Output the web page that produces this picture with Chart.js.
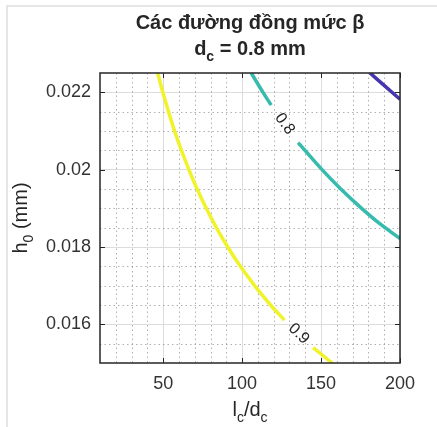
<!DOCTYPE html>
<html lang="vi">
<head>
<meta charset="utf-8">
<title>Các đường đồng mức β</title>
<script src="https://cdn.jsdelivr.net/npm/chart.js@4.4.1/dist/chart.umd.min.js"></script>
<style>
  html, body { margin: 0; padding: 0; background: #fff; }
  #chartBox { width: 437px; height: 427px; }
</style>
</head>
<body>
<div id="chartBox"><canvas id="betaContour" width="437" height="427"></canvas></div>
<script>
// beta contour levels for d_c = 0.8 mm, x = l_c/d_c, y = h_0 (mm)
// null marks where the line is broken for its level label
const levels = ['0.7', '0.8', '0.9'];
const levelColors = ['#4536b0', '#36bbad', '#f1f32a'];
const levelLabelled = [false, true, true];

const lcdc07 = [181.0, 190.5, 200];
const h07 = [0.0225, 0.02216, 0.02182];

const lcdc08 = [105.8, 113.2, 118.4, null, 135.5, 150.6, 162.5, 175.7, 187.0, 200];
const h08 = [0.0225, 0.022, 0.02167, null, 0.0207, 0.02, 0.0195, 0.019, 0.01861, 0.01822];

const lcdc09 = [46.5, 49.8, 57.2, 66.3, 71.5, 77.3, 83.7, 90.9, 98.9, 107.9, 118.0, 126.8, null, 145.0, 157.0];
const h09 = [0.0225, 0.022, 0.021, 0.02, 0.0195, 0.019, 0.0185, 0.018, 0.0175, 0.017, 0.0165, 0.01611, null, 0.0154, 0.015];

const xTicks = [50, 100, 150, 200];
const yTicks = [0.016, 0.018, 0.02, 0.022];
const yTickLabels = ['0.016', '0.018', '0.02', '0.022'];
const xMinor = [20, 30, 40, 60, 70, 80, 90, 110, 120, 130, 140, 160, 170, 180, 190];
const yMinor = [0.0155, 0.0165, 0.017, 0.0175, 0.0185, 0.019, 0.0195, 0.0205, 0.021, 0.0215];

const FONT = '"Liberation Sans", Arial, Helvetica, sans-serif';
const INK = '#262626';

function toPoints(xs, ys) {
    return xs.map((x, i) => ({ x: x, y: ys[i] }));
}

// text with subscripts, e.g. [['d'], ['c', true], [' = 0.8 mm']]
function drawRich(ctx, parts, x, y, size, weight) {
    const subSize = Math.round(size * 0.72);
    const fontOf = sub => `${weight} ${sub ? subSize : size}px ${FONT}`;
    let total = 0;
    parts.forEach(([t, sub]) => {
        ctx.font = fontOf(sub);
        total += ctx.measureText(t).width;
    });
    let cx = x - total / 2;
    ctx.textAlign = 'left';
    ctx.textBaseline = 'alphabetic';
    parts.forEach(([t, sub]) => {
        ctx.font = fontOf(sub);
        ctx.fillText(t, cx, y + (sub ? size * 0.3 : 0));
        cx += ctx.measureText(t).width;
    });
}

const figureDecor = {
    id: 'figureDecor',
    beforeDraw(chart) {
        const ctx = chart.ctx;
        ctx.save();
        ctx.fillStyle = '#fff';
        ctx.fillRect(0, 0, chart.width, chart.height);
        ctx.strokeStyle = '#dedede';
        ctx.lineWidth = 1.5;
        ctx.beginPath();
        ctx.moveTo(7, chart.height);
        ctx.lineTo(7, 6);
        ctx.lineTo(chart.width, 6);
        ctx.stroke();
        ctx.restore();
    },
    beforeDatasetsDraw(chart) {
        const { ctx, chartArea: a, scales } = chart;
        ctx.save();
        ctx.strokeStyle = 'rgba(100,100,100,0.5)';
        ctx.lineWidth = 1;
        ctx.setLineDash([1.5, 3]);
        ctx.beginPath();
        xMinor.forEach(v => {
            const px = Math.round(scales.x.getPixelForValue(v)) + 0.5;
            ctx.moveTo(px, a.top);
            ctx.lineTo(px, a.bottom);
        });
        yMinor.forEach(v => {
            const py = Math.round(scales.y.getPixelForValue(v)) + 0.5;
            ctx.moveTo(a.left, py);
            ctx.lineTo(a.right, py);
        });
        ctx.stroke();
        ctx.restore();
    },
    afterDatasetsDraw(chart) {
        const { ctx, chartArea: a, scales } = chart;
        ctx.save();
        // axes box with inward ticks
        ctx.strokeStyle = INK;
        ctx.lineWidth = 1.5;
        ctx.strokeRect(a.left, a.top, a.right - a.left, a.bottom - a.top);
        ctx.lineWidth = 1;
        ctx.beginPath();
        xTicks.forEach(v => {
            const px = Math.round(scales.x.getPixelForValue(v)) + 0.5;
            ctx.moveTo(px, a.bottom);
            ctx.lineTo(px, a.bottom - 5);
            ctx.moveTo(px, a.top);
            ctx.lineTo(px, a.top + 5);
        });
        yTicks.forEach(v => {
            const py = Math.round(scales.y.getPixelForValue(v)) + 0.5;
            ctx.moveTo(a.left, py);
            ctx.lineTo(a.left + 5, py);
            ctx.moveTo(a.right, py);
            ctx.lineTo(a.right - 5, py);
        });
        ctx.stroke();

        // level labels sit in the break of each labelled line
        ctx.fillStyle = INK;
        ctx.font = `16px ${FONT}`;
        ctx.textAlign = 'center';
        ctx.textBaseline = 'middle';
        chart.data.datasets.forEach((ds, i) => {
            if (!levelLabelled[i]) return;
            const k = ds.data.findIndex(p => p.x === null);
            const pts = chart.getDatasetMeta(i).data;
            const p1 = pts[k - 1], p2 = pts[k + 1];
            ctx.save();
            ctx.translate((p1.x + p2.x) / 2, (p1.y + p2.y) / 2);
            ctx.rotate(Math.atan2(p2.y - p1.y, p2.x - p1.x));
            ctx.fillText(levels[i], 0, 0);
            ctx.restore();
        });
        ctx.restore();
    },
    afterDraw(chart) {
        const { ctx, chartArea: a } = chart;
        const mid = (a.left + a.right) / 2;
        ctx.save();
        ctx.fillStyle = INK;
        ctx.font = `bold 20px ${FONT}`;
        ctx.textAlign = 'center';
        ctx.textBaseline = 'alphabetic';
        ctx.fillText('Các đường đồng mức β', mid, 29);
        drawRich(ctx, [['d'], ['c', true], [' = 0.8 mm']], mid, 55, 20, 'bold');

        drawRich(ctx, [['l'], ['c', true], ['/d'], ['c', true]], mid, 416, 20, 'normal');

        ctx.translate(27, (a.top + a.bottom) / 2);
        ctx.rotate(-Math.PI / 2);
        drawRich(ctx, [['h'], ['0', true], [' (mm)']], 0, 0, 20, 'normal');
        ctx.restore();
    }
};

new Chart(document.getElementById('betaContour'), {
    type: 'scatter',
    data: {
        datasets: [
            { label: levels[0], data: toPoints(lcdc07, h07) },
            { label: levels[1], data: toPoints(lcdc08, h08) },
            { label: levels[2], data: toPoints(lcdc09, h09) }
        ].map((ds, i) => Object.assign(ds, {
            showLine: true,
            spanGaps: false,
            borderColor: levelColors[i],
            backgroundColor: levelColors[i],
            borderWidth: 3.5,
            pointRadius: 0,
            cubicInterpolationMode: 'monotone'
        }))
    },
    options: {
        responsive: false,
        animation: false,
        devicePixelRatio: 1,
        layout: { padding: { left: 0, top: 73, right: 37, bottom: 0 } },
        plugins: {
            legend: { display: false },
            tooltip: { enabled: false },
            title: { display: false }
        },
        scales: {
            x: {
                type: 'linear',
                min: 10,
                max: 200,
                afterBuildTicks: axis => { axis.ticks = xTicks.map(v => ({ value: v })); },
                afterFit: axis => { axis.height = 64; },
                ticks: { color: '#333', font: { family: FONT, size: 18 }, padding: 10, maxRotation: 0 },
                grid: { color: '#dcdcdc', lineWidth: 1, drawTicks: false },
                border: { display: false }
            },
            y: {
                type: 'linear',
                min: 0.015,
                max: 0.0225,
                afterBuildTicks: axis => { axis.ticks = yTicks.map(v => ({ value: v })); },
                afterFit: axis => { axis.width = 100; },
                ticks: {
                    color: '#333',
                    font: { family: FONT, size: 18 },
                    padding: 9,
                    callback: (v, i) => yTickLabels[i]
                },
                grid: { color: '#dcdcdc', lineWidth: 1, drawTicks: false },
                border: { display: false }
            }
        }
    },
    plugins: [figureDecor]
});
</script>
</body>
</html>
